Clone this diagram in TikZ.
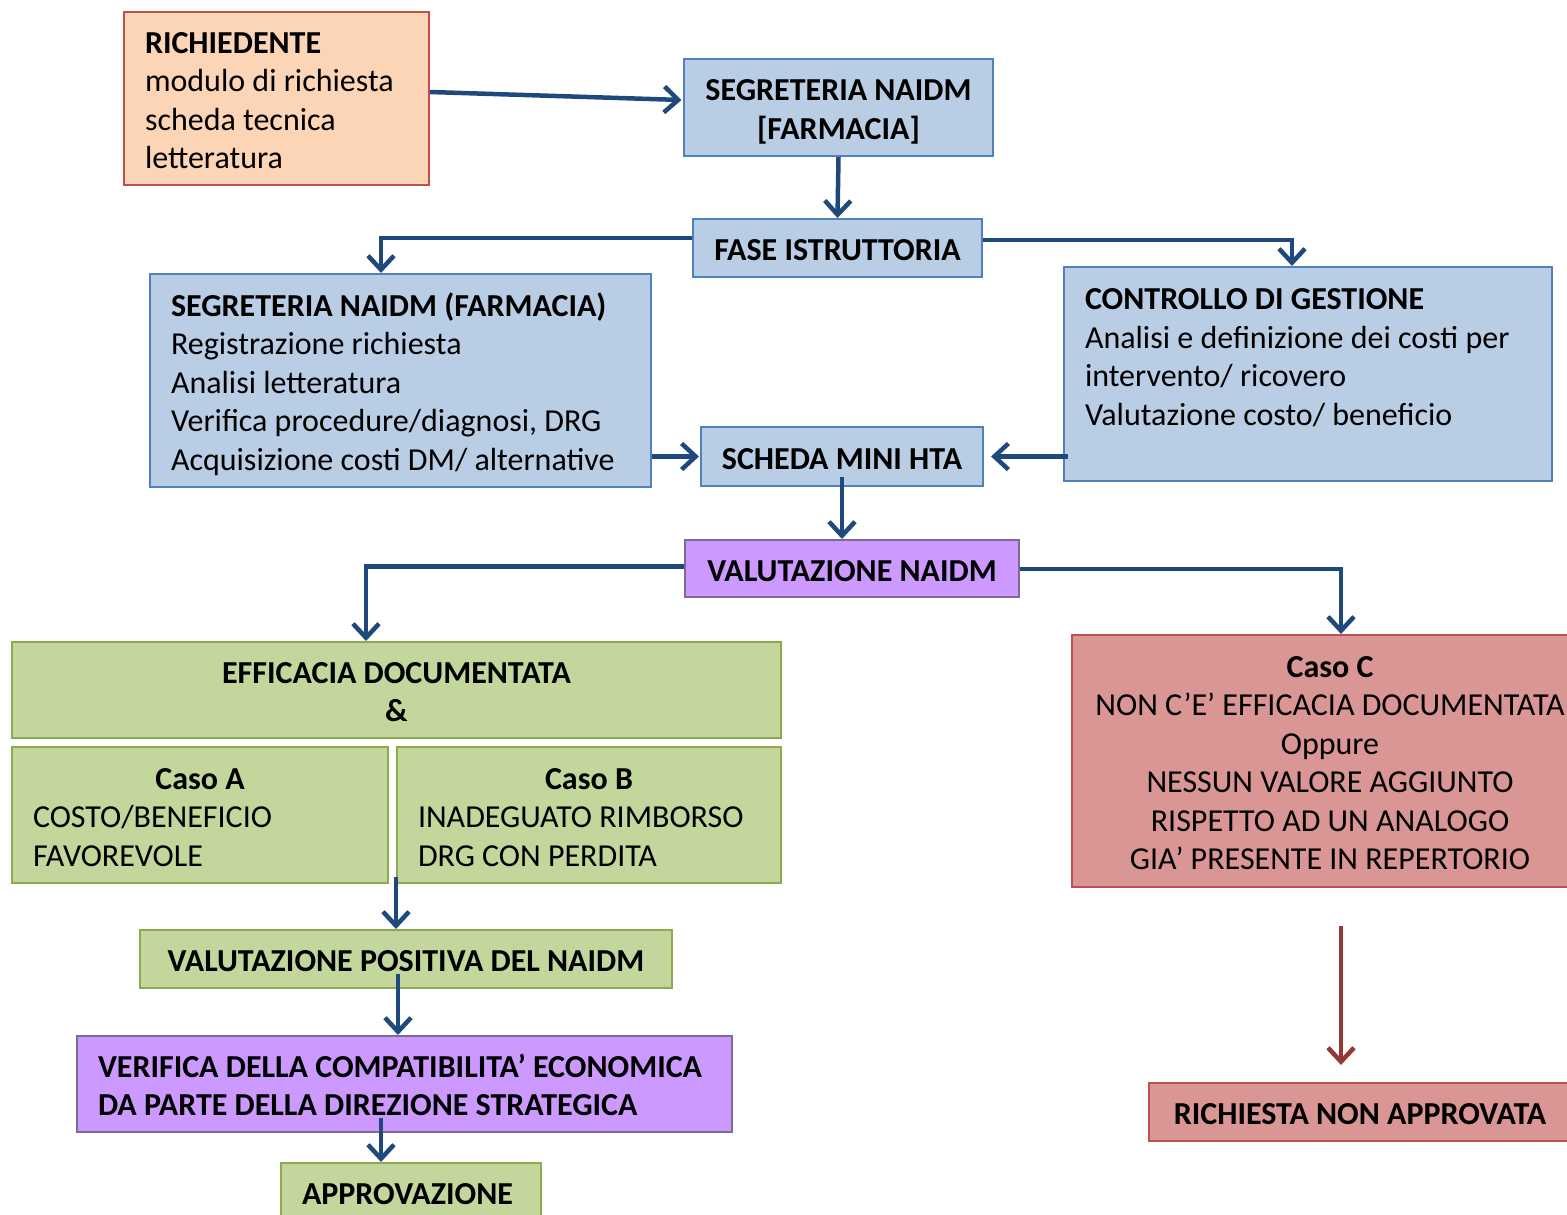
\documentclass[tikz,border=0pt]{standalone}
\usepackage{fontspec}
\setmainfont{Carlito}
\usetikzlibrary{arrows.meta,calc}
\definecolor{peachfill}{HTML}{FBD5B5}
\definecolor{redline}{HTML}{C0504D}
\definecolor{bluefill}{HTML}{B9CDE5}
\definecolor{blueline}{HTML}{4F81BD}
\definecolor{arrowblue}{HTML}{1F497D}
\definecolor{violetfill}{HTML}{CC99FF}
\definecolor{violetline}{HTML}{7F6A93}
\definecolor{greenfill}{HTML}{C3D69B}
\definecolor{greenline}{HTML}{8EAA4F}
\definecolor{redfill}{HTML}{D99694}
\definecolor{arrowred}{HTML}{953735}
\newcommand{\lbox}[2]{\raisebox{-5pt}[\height][\depth]{\makebox[#1][l]{\begin{tabular}{@{}l@{}}#2\end{tabular}}}}
\newcommand{\cbox}[1]{\raisebox{-5pt}[\height][\depth]{\begin{tabular}{@{}c@{}}#1\end{tabular}}}
\tikzset{
  box/.style={draw, line width=2pt, rectangle, inner xsep=21pt, inner ysep=0pt,
    font=\fontsize{32}{38.5}\selectfont},
  peach/.style={box, fill=peachfill, draw=redline},
  blu/.style={box, fill=bluefill, draw=blueline},
  vio/.style={box, fill=violetfill, draw=violetline},
  grn/.style={box, fill=greenfill, draw=greenline},
  rdd/.style={box, fill=redfill, draw=redline},
  arr/.style={draw=arrowblue, line width=4.5pt, -{Straight Barb[length=14pt,width=26pt]}},
  arrr/.style={draw=arrowred, line width=4.5pt, -{Straight Barb[length=14pt,width=26pt]}},
}
\begin{document}
\begin{tikzpicture}[x=1pt,y=-1pt]
\useasboundingbox (0,0) rectangle (1567,1215);
\fill[white] (0,0) rectangle (1567,1215);

\node[peach, minimum width=305pt, minimum height=173pt] (rich) at (276.5,98.5)
  {\lbox{263pt}{\textbf{RICHIEDENTE}\\modulo di richiesta\\scheda tecnica\\letteratura}};
\node[blu, minimum width=307pt, minimum height=97pt] (seg1) at (838.5,107.5)
  {\cbox{\textbf{SEGRETERIA NAIDM}\\\textbf{[FARMACIA]}}};
\node[blu, minimum width=289pt, minimum height=58pt] (fase) at (837.5,248)
  {\cbox{\textbf{FASE ISTRUTTORIA}}};
\node[blu, minimum width=501pt, minimum height=213pt] (seg2) at (400.5,380.5)
  {\lbox{459pt}{\textbf{SEGRETERIA NAIDM (FARMACIA)}\\Registrazione richiesta\\Analisi letteratura\\Verifica procedure/diagnosi, DRG\\Acquisizione costi DM/ alternative}};
\node[blu, minimum width=488pt, minimum height=214pt] (ctrl) at (1308,374)
  {\lbox{446pt}{\textbf{CONTROLLO DI GESTIONE}\\Analisi e definizione dei costi per\\intervento/ ricovero\\Valutazione costo/ beneficio\\\mbox{}}};
\node[blu, minimum width=282pt, minimum height=59pt] (scheda) at (842,456.5)
  {\cbox{\textbf{SCHEDA MINI HTA}}};
\node[vio, minimum width=334pt, minimum height=57pt] (val) at (852,568.5)
  {\cbox{\textbf{VALUTAZIONE NAIDM}}};
\node[grn, minimum width=769pt, minimum height=96pt] (eff) at (396.5,690)
  {\cbox{\textbf{EFFICACIA DOCUMENTATA}\\\textbf{\&}}};
\node[grn, minimum width=376pt, minimum height=136pt] (casoa) at (200,815)
  {\lbox{334pt}{\makebox[334pt]{\textbf{Caso A}}\\COSTO/BENEFICIO\\FAVOREVOLE}};
\node[grn, minimum width=384pt, minimum height=136pt] (casob) at (589,815)
  {\lbox{342pt}{\makebox[342pt]{\textbf{Caso B}}\\INADEGUATO RIMBORSO\\DRG CON PERDITA}};
\node[grn, minimum width=532pt, minimum height=58pt] (valpos) at (406,959)
  {\cbox{\textbf{VALUTAZIONE POSITIVA DEL NAIDM}}};
\node[vio, minimum width=655pt, minimum height=96pt] (verif) at (404.5,1084)
  {\lbox{613pt}{\textbf{VERIFICA DELLA COMPATIBILITA’ ECONOMICA}\\\textbf{DA PARTE DELLA DIREZIONE STRATEGICA}}};
\node[grn, minimum width=260pt, minimum height=58pt] (appr) at (411,1192)
  {\lbox{218pt}{\textbf{APPROVAZIONE}}};
\node[rdd, minimum width=516pt, minimum height=252pt] (casoc) at (1330,761)
  {\cbox{\textbf{Caso C}\\NON C’E’ EFFICACIA DOCUMENTATA\\Oppure\\NESSUN VALORE AGGIUNTO\\RISPETTO AD UN ANALOGO\\GIA’ PRESENTE IN REPERTORIO}};
\node[rdd, minimum width=422pt, minimum height=58pt] (rna) at (1360,1112)
  {\cbox{\textbf{RICHIESTA NON APPROVATA}}};

% connectors
\draw[arr] ([yshift=6.5]rich.east) -- ([xshift=-2pt,yshift=7.5]seg1.west);
\draw[arr] (seg1.south) -- (fase.north);
\draw[arr] ([yshift=10]fase.west) -| ([xshift=-19.5]seg2.north);
\draw[arr] ([yshift=8]fase.east) -| ([xshift=-16]ctrl.north);
\draw[arr] (scheda.west -| seg2.east) -- ([xshift=-1]scheda.west);
\draw[arr] ([xshift=5]scheda.east -| ctrl.west) -- ([xshift=7]scheda.east);
\draw[arr] ([yshift=10]scheda.south) -- (scheda.south |- val.north);
\draw[arr] ([yshift=2]val.west) -| ([xshift=-30.5]eff.north);
\draw[arr] ([yshift=-0.5]val.east) -| ([xshift=11]casoc.north);
\draw[arr] ([yshift=7]casob.south west) -- (casob.south west |- valpos.north);
\draw[arr] ([xshift=-8,yshift=15]valpos.south) -- ([xshift=-8]valpos.south |- verif.north);
\draw[arr] ([xshift=-23.5,yshift=15]verif.south) -- ([xshift=-23.5]verif.south |- appr.north);
\draw[arrr, shorten <=38pt, shorten >=17pt] ([xshift=11]casoc.south) -- ([xshift=11]casoc.south |- rna.north);
\end{tikzpicture}
\end{document}
